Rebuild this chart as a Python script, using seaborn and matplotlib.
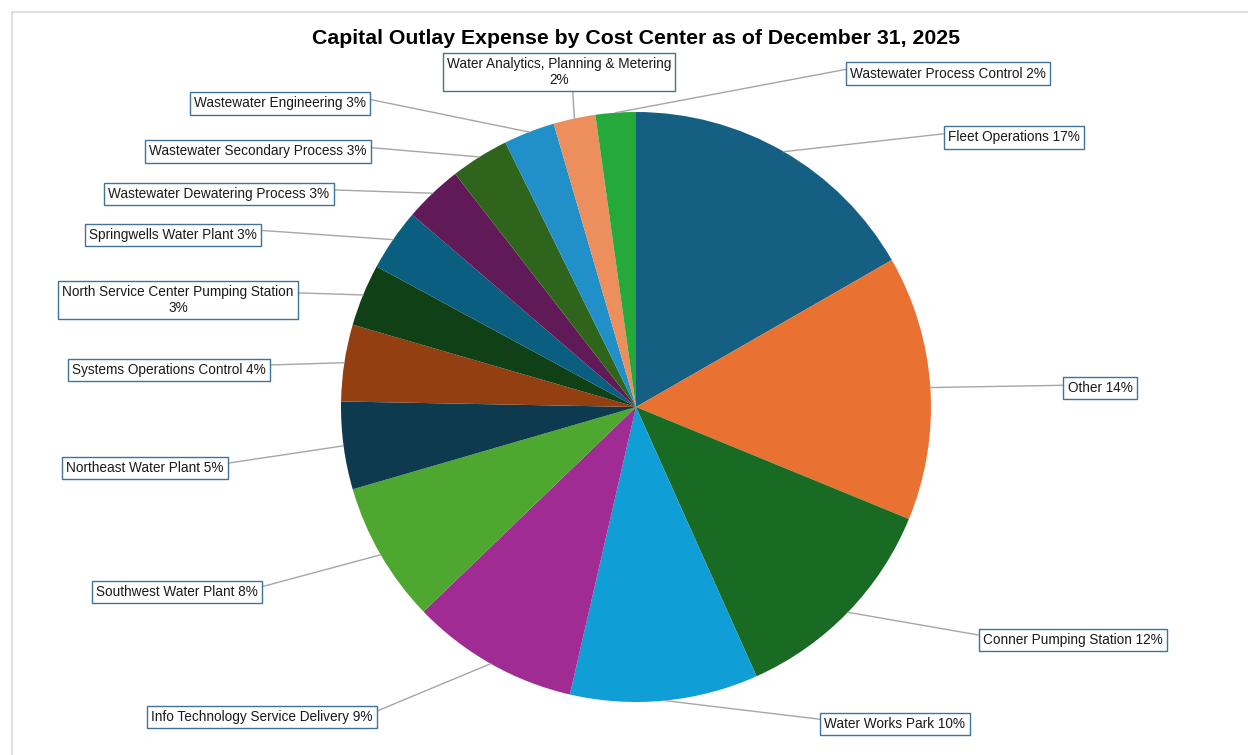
import numpy as np
import matplotlib.pyplot as plt
import seaborn as sns
from matplotlib.patches import Rectangle

# Данные (по часовой стрелке от 12 часов)
cost_centers = [
    "Fleet Operations",
    "Other",
    "Conner Pumping Station",
    "Water Works Park",
    "Info Technology Service Delivery",
    "Southwest Water Plant",
    "Northeast Water Plant",
    "Systems Operations Control",
    "North Service Center Pumping Station",
    "Springwells Water Plant",
    "Wastewater Dewatering Process",
    "Wastewater Secondary Process",
    "Wastewater Engineering",
    "Water Analytics, Planning & Metering",
    "Wastewater Process Control",
]
shares = [16.7, 14.5, 12.1, 10.3, 9.2, 7.7, 4.8, 4.2, 3.4, 3.4, 3.2, 3.2, 2.8, 2.3, 2.2]

palette = [
    "#156082", "#E97132", "#196B24", "#0F9ED5", "#A02B93", "#4EA72E",
    "#0D3A4E", "#933F12", "#0F4016", "#0A5E80", "#601A58", "#2F641C",
    "#2290C8", "#ED8F5C", "#26A93B",
]

# Центры подписей в пикселях (от левого верхнего угла) и точка крепления линии
label_xy = [
    (1014, 137.5), (1100, 388), (1073, 640), (895, 724), (262, 717),
    (177, 592), (145, 468), (169, 370), (178, 300), (173, 235),
    (219, 194), (258, 151.5), (280, 103.5), (559, 72), (948, 73.5),
]
label_rel = [
    (0, 0.8), (0, 0.7), (0, 0.8), (0, 0.8), (1, 0.8),
    (1, 0.8), (1, 0.8), (1, 0.85), (1, 0.75), (1, 0.85),
    (1, 0.8), (1, 0.8), (1, 0.85), (0.56, 0), (0, 0.85),
]
wrapped = {8: "North Service Center Pumping Station\n{p}%",
           13: "Water Analytics, Planning & Metering\n{p}%"}

W, H = 1248, 755
sns.set_theme(style="white")
plt.rcParams['font.family'] = ['Liberation Sans', 'DejaVu Sans']

fig = plt.figure(figsize=(W / 100, H / 100), dpi=100)
fig.patch.set_facecolor("white")

# светлая рамка области диаграммы
fig.add_artist(Rectangle((12 / W, -0.05), 1.1, 1 - 12 / H + 0.05, transform=fig.transFigure,
                         fill=False, edgecolor="#D9D9D9", linewidth=1.2))

cx, cy, r = 636, 407, 295
ax = fig.add_axes([(cx - r) / W, (H - cy - r) / H, 2 * r / W, 2 * r / H])
wedges, _ = ax.pie(shares, colors=palette, startangle=90, counterclock=False,
                   radius=1, wedgeprops=dict(linewidth=0))
ax.set_xlim(-1, 1)
ax.set_ylim(-1, 1)
ax.set_aspect("equal")
ax.axis("off")

total = sum(shares)
for i, (w, name) in enumerate(zip(wedges, cost_centers)):
    pct = int(round(shares[i] / total * 100))
    if i in wrapped:
        txt = wrapped[i].format(p=pct)
    else:
        txt = f"{name} {pct}%"
    ang = np.deg2rad((w.theta1 + w.theta2) / 2)
    lx, ly = label_xy[i]
    ax.annotate(txt, xy=(np.cos(ang), np.sin(ang)), xycoords="data",
                xytext=(lx, H - ly), textcoords="figure pixels",
                ha="center", va="center", multialignment="center",
                fontsize=9.8, color="#1A1A1A", linespacing=1.1,
                bbox=dict(boxstyle="square,pad=0.3", facecolor="white",
                          edgecolor="#41729A", linewidth=1),
                arrowprops=dict(arrowstyle="-", color="#A6A6A6", lw=1,
                                shrinkA=0, shrinkB=0, relpos=label_rel[i]),
                annotation_clip=False)

fig.text(636 / W, 1 - 38 / H, "Capital Outlay Expense by Cost Center as of December 31, 2025",
         ha="center", va="center", fontsize=15.3, fontweight="bold", color="black")

fig.savefig("out.png", dpi=100)
